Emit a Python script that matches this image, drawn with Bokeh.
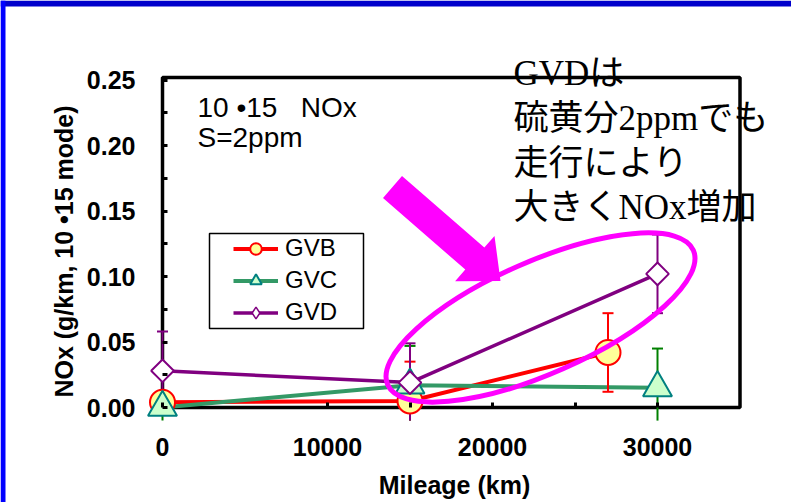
import numpy as np
from bokeh.plotting import figure
from bokeh.models import (Range1d, FixedTicker, NumeralTickFormatter, BoxAnnotation,
                          PolyAnnotation, Label, Legend, LegendItem)
from bokeh.embed import file_html
from bokeh.resources import INLINE

# ---------------- data ----------------
mileage_gvb = [0, 15000, 27000]
nox_gvb = [0.004, 0.005, 0.042]
err_gvb = [0.003, 0.030, 0.030]

mileage_gvc = [0, 15000, 30000]
nox_gvc = [0.000, 0.017, 0.015]
err_gvc = [0.010, 0.030, 0.030]

mileage_gvd = [0, 15000, 30000]
nox_gvd = [0.028, 0.019, 0.102]
err_gvd = [0.030, 0.030, 0.030]

x_ticks = [0, 10000, 20000, 30000]
x_minor = [15000, 25000]
y_ticks = [0.00, 0.05, 0.10, 0.15, 0.20, 0.25]
y_minor = [0.025, 0.075, 0.125, 0.175, 0.225]
x_max = 35000
y_max = 0.252
y_clip = -0.010   # error bars are cut just below the x axis

# ---------------- layout (page pixels) ----------------
W, H = 791, 502
OX, OY = 0, 0                          # page position of the canvas
X0, XS = 162, 0.0165                   # page pixel of x=0, px per km
Y0, YS = 407, 1310                     # page pixel of y=0, px per unit


def sx(px):
    return px - OX


def sy(py):
    return (OY + H) - py


def dx(px):
    return (px - X0) / XS


def dy(py):
    return (Y0 - py) / YS


p = figure(width=W, height=H, output_backend="svg", toolbar_location=None,
           x_range=Range1d(dx(OX), dx(OX + W)), y_range=Range1d(dy(OY + H), dy(OY)),
           min_border_left=0, min_border_right=0, min_border_top=0, min_border_bottom=0)
p.outline_line_color = None
p.grid.visible = False
p.background_fill_color = "white"
p.border_fill_color = "white"

FONT = "Liberation Sans"

xa = p.xaxis[0]
xa.fixed_location = 0
xa.ticker = FixedTicker(ticks=x_ticks, minor_ticks=x_minor)
xa.formatter = NumeralTickFormatter(format="0")
xa.axis_line_color = None
xa.major_tick_in = 5
xa.major_tick_out = 0
xa.minor_tick_in = 5
xa.minor_tick_out = 0
xa.major_tick_line_width = 3
xa.minor_tick_line_width = 3
xa.major_tick_line_color = "black"
xa.minor_tick_line_color = "black"
xa.major_label_text_font = FONT
xa.major_label_text_font_style = "bold"
xa.major_label_text_font_size = "25px"
xa.major_label_text_color = "black"
xa.major_label_standoff = 30

ya = p.yaxis[0]
ya.fixed_location = 0
ya.ticker = FixedTicker(ticks=y_ticks, minor_ticks=y_minor)
ya.formatter = NumeralTickFormatter(format="0.00")
ya.axis_line_color = None
ya.major_tick_in = 5
ya.major_tick_out = 0
ya.minor_tick_in = 5
ya.minor_tick_out = 0
ya.major_tick_line_width = 3
ya.minor_tick_line_width = 3
ya.major_tick_line_color = "black"
ya.minor_tick_line_color = "black"
ya.major_label_text_font = FONT
ya.major_label_text_font_style = "bold"
ya.major_label_text_font_size = "25px"
ya.major_label_text_color = "black"
ya.major_label_standoff = 27
ya.axis_label = "NOx (g/km, 10 \u202215 mode)"
ya.axis_label_text_font = FONT
ya.axis_label_text_font_style = "bold"
ya.axis_label_text_font_size = "25px"
ya.axis_label_text_color = "black"
ya.axis_label_standoff = 6

# plot box
p.add_layout(BoxAnnotation(left=0, right=x_max, bottom=0, top=y_max,
                           fill_alpha=0, line_color="black", line_alpha=1,
                           line_width=3.5, level="underlay"))

# ---------------- series ----------------
series = [
    (mileage_gvb, nox_gvb, err_gvb, "#FF0000", 4, "#FF0000",
     dict(marker="circle", size=25, fill_color="#FFFF99", line_color="#FF0000", line_width=2)),
    (mileage_gvc, nox_gvc, err_gvc, "#339966", 4, "#008000",
     dict(marker="triangle", size=29, fill_color="#CCFFCC", line_color="#008080", line_width=2)),
    (mileage_gvd, nox_gvd, err_gvd, "#800080", 3.5, "#800080",
     dict(marker="square", angle=np.pi / 4, size=16, fill_color="white",
          line_color="#800080", line_width=2)),
]

line_rs = []
for xs, ys, es, lc, lw, ec, mk in series:
    line_rs.append(p.line(xs, ys, line_color=lc, line_width=lw))

for xs, ys, es, lc, lw, ec, mk in series:
    lo = [max(y - e, y_clip) for y, e in zip(ys, es)]
    hi = [y + e for y, e in zip(ys, es)]
    p.segment(x0=xs, y0=lo, x1=xs, y1=hi, line_color=ec, line_width=2)
    p.scatter(xs, hi, marker="dash", size=11, line_color=ec, line_width=2)
    capx = [x for x, l in zip(xs, lo) if l > y_clip]
    capy = [l for l in lo if l > y_clip]
    p.scatter(capx, capy, marker="dash", size=11, line_color=ec, line_width=2)

legend_marks = []
for i, (xs, ys, es, lc, lw, ec, mk) in enumerate(series):
    if mk["marker"] == "square":
        # plain diamond underneath the rotated square: gives the legend a diamond glyph
        legend_marks.append(p.scatter(xs, ys, marker="diamond", size=15, fill_color="white",
                                      line_color=mk["line_color"], line_width=1.5))
        p.scatter(xs, ys, **mk)
    else:
        legend_marks.append(p.scatter(xs, ys, **mk))

# magenta ellipse
p.ellipse(x=[dx(540)], y=[dy(317)], width=[334], height=[112], angle=0.415,
          width_units="screen", height_units="screen",
          fill_alpha=0, line_color="#FF00FF", line_width=5)

# magenta arrow
arrow_px = [382.5, 401.5, 483.8, 494.0, 500.0, 454.6, 464.8]
arrow_py = [197.5, 175.5, 247.1, 235.4, 280.4, 280.8, 269.1]
p.add_layout(PolyAnnotation(xs=[sx(v) for v in arrow_px], ys=[sy(v) for v in arrow_py],
                            xs_units="screen", ys_units="screen",
                            fill_color="#FF00FF", fill_alpha=1, line_alpha=0))

# legend
p.add_layout(BoxAnnotation(left=sx(209), right=sx(363), bottom=sy(328), top=sy(233),
                           left_units="screen", right_units="screen",
                           bottom_units="screen", top_units="screen",
                           fill_color="white", fill_alpha=1,
                           line_color="black", line_alpha=1, line_width=1.5))
names = ["GVB", "GVC", "GVD"]
legend = Legend(items=[LegendItem(label=n, renderers=[l, m])
                       for n, l, m in zip(names, line_rs, legend_marks)],
                location=(sx(233), sy(326.5)), padding=0, spacing=3,
                glyph_width=45, glyph_height=29, label_height=29, label_standoff=7,
                border_line_alpha=0, background_fill_alpha=0, margin=0,
                label_text_font=FONT, label_text_font_size="24px",
                label_text_color="black")
p.add_layout(legend)


def lab(text, px, py, font, size, style="normal", align="left"):
    return Label(x=sx(px), y=sy(py), x_units="screen", y_units="screen", text=text,
                 text_font=font, text_font_size=f"{size}px", text_font_style=style,
                 text_align=align, text_baseline="alphabetic", text_color="black")


NB = "\u00a0"
p.add_layout(lab("10 \u202215" + NB * 3 + "NOx", 197, 107, FONT, 28))
p.add_layout(lab("S=2ppm", 197, 137, FONT, 28))
p.add_layout(lab("Mileage (km)", 454, 484, FONT, 25, "bold", "center"))

JP = "'Liberation Serif', 'Noto Sans CJK JP'"
note_lines = ["GVDは", "硫黄分2ppmでも", "走行により", "大きくNOx増加"]
note_base = [73, 118, 163, 207]
for t, b in zip(note_lines, note_base):
    p.add_layout(lab(t, 513, b, JP, 35))

# blue slide frame (top and left edges)
p.add_layout(BoxAnnotation(left=0, right=W, bottom=H - 6, top=H,
                           left_units="screen", right_units="screen",
                           bottom_units="screen", top_units="screen",
                           fill_color="#0000CC", fill_alpha=1, line_alpha=0, level="overlay"))
p.add_layout(BoxAnnotation(left=0, right=5, bottom=0, top=H,
                           left_units="screen", right_units="screen",
                           bottom_units="screen", top_units="screen",
                           fill_color="#0000FF", fill_alpha=1, line_alpha=0, level="overlay"))

open("out.html", "w").write(file_html(p, INLINE))
